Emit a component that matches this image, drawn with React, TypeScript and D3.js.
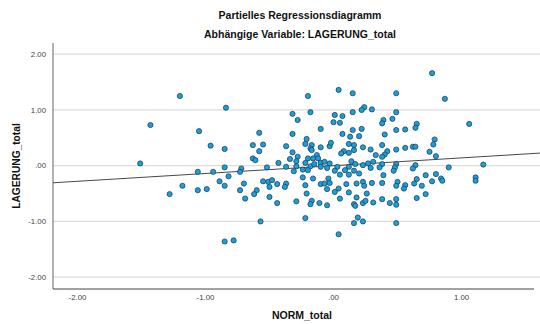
import React from "react";
import * as d3 from "d3";

// Partial regression residuals: NORM_total (x) vs LAGERUNG_total (y)
const normResid: number[] = [
  -1.2, -0.84, -1.43, -1.05, 0.04, 0.15, -0.2, 0.24, 0.22, 0.15, -0.18, -0.32, 0.01, 0.07, -0.28, 0.0, 0.05,
  -0.1, 0.15, 0.22, -0.58, -0.32, 0.07, 0.13, 0.2, -0.21, 0.77, 0.49, 0.87, 0.3, 0.49, 0.39, 0.38, 0.46,
  0.65, 0.64, 0.56, 0.49, 1.06, 0.4, 0.79, -0.96, -0.85, -1.51, -0.85, -0.72, -1.06, -0.94, -0.73, -0.82,
  -0.89, -1.18, -0.85, -0.7, -1.06, -0.99, -0.73, -1.28, -0.69, -0.85, -0.78, -0.63, -0.55, -0.58, -0.37,
  -0.22, -0.17, -0.18, -0.1, -0.03, -0.02, 0.12, 0.16, 0.16, 0.12, 0.08, 0.06, 0.23, -0.32, -0.17, -0.13,
  -0.16, -0.28, -0.34, -0.29, -0.2, -0.22, -0.12, -0.1, -0.07, -0.63, -0.61, -0.43, -0.03, 0.14, 0.17,
  0.27, -0.52, -0.37, -0.29, -0.18, -0.15, -0.1, -0.05, 0.03, 0.12, 0.23, -0.31, -0.24, -0.2, 0.01, 0.09,
  0.16, 0.2, 0.05, 0.12, -0.16, -0.24, -0.04, -0.55, -0.51, -0.48, -0.44, -0.37, -0.38, -0.5, -0.1, -0.07,
  -0.03, 0.1, 0.18, 0.23, 0.24, 0.04, 0.01, -0.05, -0.22, -0.6, -0.62, -0.5, -0.21, 0.12, 0.26, 0.05, 0.18,
  -0.44, -0.29, -0.17, -0.18, -0.11, -0.05, 0.16, 0.17, 0.23, 0.25, -0.57, -0.22, 0.04, 0.16, 0.19, 0.23,
  0.38, 0.49, 0.56, 0.62, 0.64, 0.78, 0.33, 0.42, 0.4, 0.38, 0.75, 0.8, 0.29, 0.31, 0.38, 0.49, 0.48, 0.47,
  0.36, 0.29, 0.64, 0.62, 0.9, 1.17, 0.39, 0.72, 0.8, 0.84, 0.85, 0.65, 0.77, 1.11, 1.11, 0.38, 0.3, 0.5,
  0.49, 0.56, 0.55, 0.63, 0.69, 0.72, 0.65, 0.49, 0.38, 0.31, 0.44, 0.49, 0.49,
];
const lagerResid: number[] = [
  1.25, 1.04, 0.73, 0.62, 1.36, 1.3, 1.25, 1.05, 1.0, 0.96, 0.96, 0.93, 0.91, 0.89, 0.82, 0.78, 0.77,
  0.66, 0.64, 0.66, 0.59, 0.57, 0.57, 0.52, 0.53, 0.48, 1.66, 1.3, 1.2, 1.01, 0.96, 0.82, 0.76, 0.84,
  0.75, 0.68, 0.65, 0.64, 0.75, 0.56, 0.47, 0.36, 0.3, 0.04, -0.03, -0.05, -0.11, -0.11, -0.11, -0.19,
  -0.28, -0.36, -0.36, -0.32, -0.44, -0.42, -0.44, -0.51, -0.59, -1.36, -1.34, 0.37, 0.38, 0.26, 0.35,
  0.39, 0.37, 0.31, 0.33, 0.35, 0.41, 0.39, 0.37, 0.28, 0.23, 0.26, 0.22, 0.33, 0.24, 0.28, 0.19,
  0.13, 0.16, 0.12, 0.08, 0.13, 0.05, 0.13, 0.05, 0.07, 0.13, 0.1, 0.05, 0.04, 0.08, 0.03,
  0.04, -0.03, -0.02, -0.01, -0.01, 0.03, -0.02, -0.04, -0.02, -0.02, 0.01, -0.1, -0.07, -0.08, -0.09, -0.08,
  -0.09, -0.14, -0.16, -0.16, -0.23, -0.21, -0.23, -0.28, -0.29, -0.26, -0.33, -0.32, -0.38, -0.38, -0.33, -0.32,
  -0.31, -0.33, -0.32, -0.29, -0.36, -0.41, -0.47, -0.42, -0.35, -0.44, -0.51, -0.56, -0.5, -0.48, -0.5, -0.59, -0.57,
  -0.67, -0.64, -0.63, -0.69, -0.67, -0.71, -0.69, -0.72, -0.67, -0.63, -1.0, -0.94, -1.23, -1.03, -0.93, -1.0,
  0.37, 0.29, 0.32, 0.34, 0.34, 0.38, 0.19, 0.26, 0.2, 0.16, 0.25, 0.17, 0.29, 0.07, 0.03, 0.03, -0.03, -0.09,
  -0.03, -0.04, 0.01, -0.05, -0.03, 0.02, -0.17, -0.17, -0.15, -0.23, -0.27, -0.24, -0.28, -0.21, -0.27, -0.31, -0.31, -0.29,
  -0.36, -0.35, -0.41, -0.32, -0.36, -0.51, -0.58, -0.6, -0.6, -0.66, -0.67, -0.7, -1.03,
];

const xTicks = [-2, -1, 0, 1];
const yTicks = [-2, -1, 0, 1, 2];
const fitSlope = 0.14;
const fitIntercept = 0;

const titleLines = ["Partielles Regressionsdiagramm", "Abhängige Variable: LAGERUNG_total"];
const xLabel = "NORM_total";
const yLabel = "LAGERUNG_total";

const W = 540;
const H = 324;
const plot = { left: 53, right: 540, top: 43, bottom: 289 };
const font = "'Liberation Sans', Arial, Helvetica, sans-serif";

const fmt = (v: number) => {
  const s = d3.format(".2f")(Math.abs(v)).replace(/^0/, "");
  return (v < 0 ? "-" : "") + s;
};

export default function App() {
  const x = d3.scaleLinear().domain([-2.191, 1.613]).range([plot.left, plot.right]);
  const y = d3.scaleLinear().domain([-2.212, 2.201]).range([plot.bottom, plot.top]);

  const points = normResid.map((v, i) => ({ x: v, y: lagerResid[i] }));
  const fitLine = d3
    .line<number>()
    .x((d) => x(d))
    .y((d) => y(fitIntercept + fitSlope * d))(x.domain());

  return (
    <svg
      width={W}
      height={H}
      style={{ position: "absolute", left: 0, top: 0, background: "#fff" }}
      fontFamily={font}
    >
      <rect width={W} height={H} fill="#fff" />
      {titleLines.map((t, i) => (
        <text key={t} x={300} y={19 + i * 19} textAnchor="middle" fontSize={10.5} fontWeight="bold" fill="#111">
          {t}
        </text>
      ))}

      {/* horizontal grid */}
      {yTicks.map((t) => (
        <line key={t} x1={plot.left} x2={plot.right} y1={y(t)} y2={y(t)} stroke="#dcdcdc" strokeWidth={1.2} />
      ))}

      {/* axes */}
      <line x1={plot.left} x2={plot.left} y1={plot.top} y2={plot.bottom} stroke="#666" strokeWidth={1} />
      <line x1={plot.left} x2={534} y1={plot.bottom} y2={plot.bottom} stroke="#444" strokeWidth={1} />

      {yTicks.map((t) => (
        <text key={t} x={46} y={y(t)} dy="0.35em" textAnchor="end" fontSize={7.8} fill="#444">
          {fmt(t)}
        </text>
      ))}
      {xTicks.map((t) => (
        <text key={t} x={x(t)} y={299.5} textAnchor="middle" fontSize={7.8} fill="#444">
          {fmt(t)}
        </text>
      ))}

      <path d={fitLine ?? ""} fill="none" stroke="#333" strokeWidth={0.9} />

      {points.map((p, i) => (
        <circle key={i} cx={x(p.x)} cy={y(p.y)} r={2.6} fill="#1a9edc" stroke="#1d3848" strokeWidth={0.7} />
      ))}

      <text x={302} y={319} textAnchor="middle" fontSize={10.5} fontWeight="bold" fill="#111">
        {xLabel}
      </text>
      <text transform="translate(20,166) rotate(-90)" textAnchor="middle" fontSize={10.2} fontWeight="bold" fill="#111">
        {yLabel}
      </text>
    </svg>
  );
}
